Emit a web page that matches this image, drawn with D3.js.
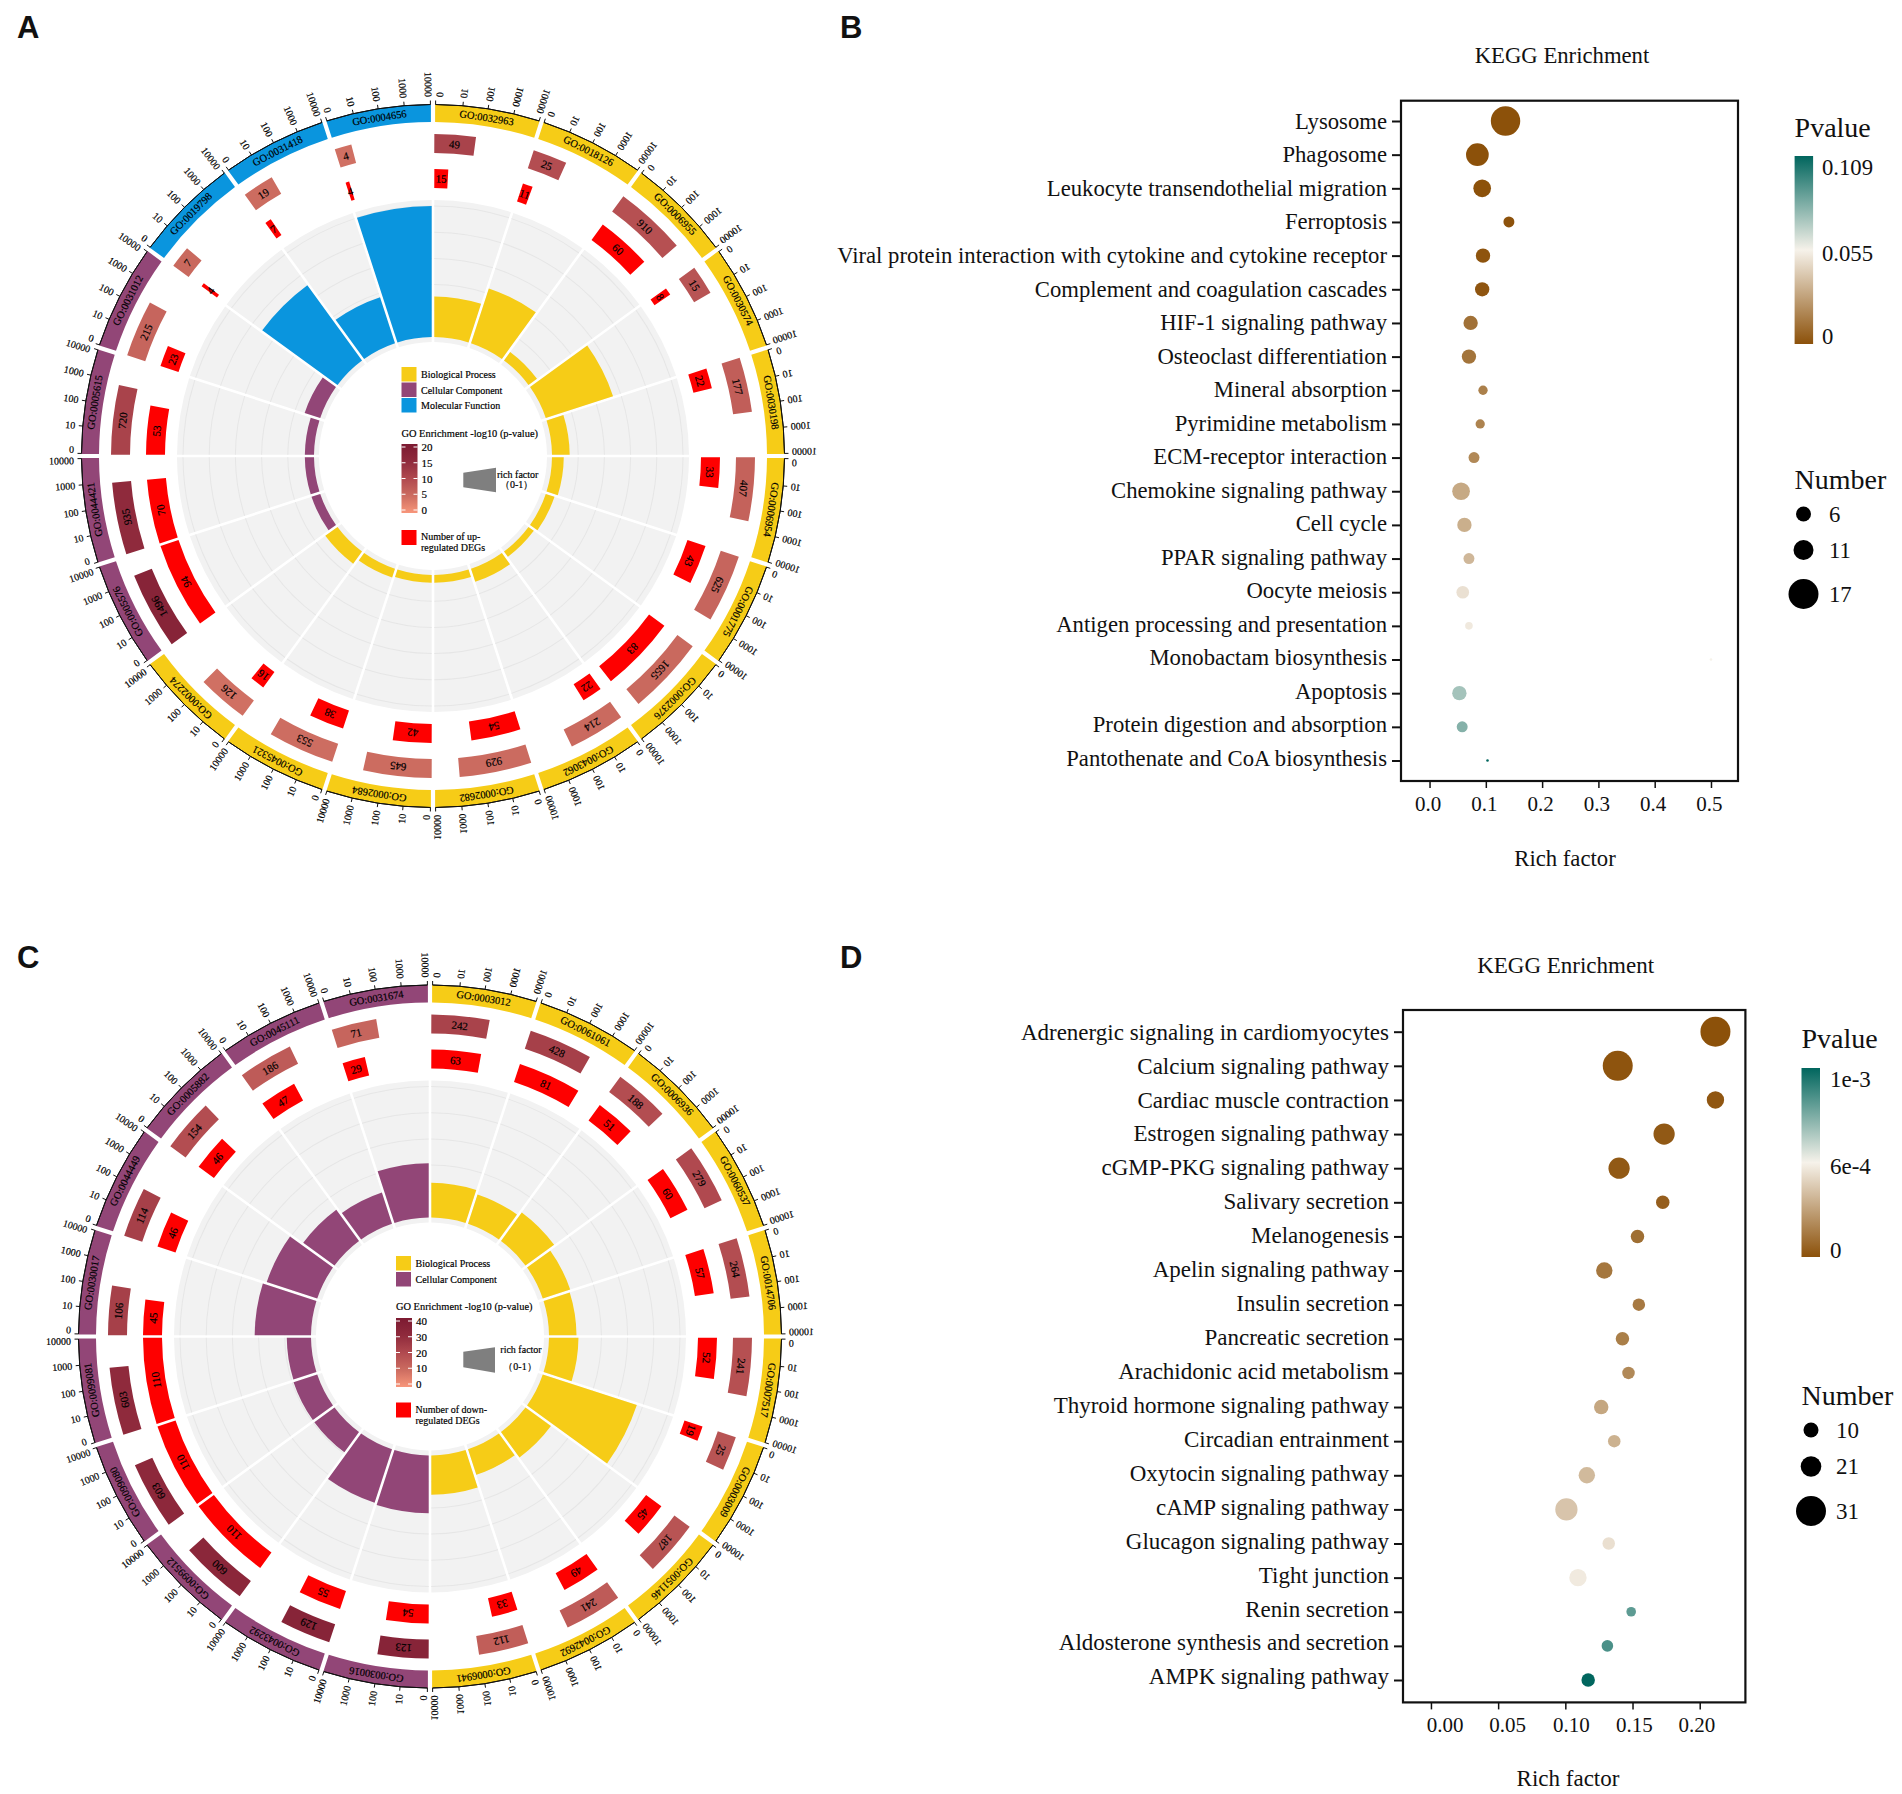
<!DOCTYPE html>
<html>
<head>
<meta charset="utf-8">
<script src="https://cdn.jsdelivr.net/npm/d3@7/dist/d3.min.js"></script>
<style>
html,body{margin:0;padding:0;background:#fff}
svg{display:block}
text{font-family:"Liberation Serif","Times New Roman",serif;fill:#111}
.ct{fill:#000;stroke:#000;stroke-width:0.18px}
</style>
</head>
<body>
<svg id="chart" width="1902" height="1794" viewBox="0 0 1902 1794"></svg>
<script>
// ---------- Panel A ----------
const aTerms = ["GO:0032963","GO:0018126","GO:0006955","GO:0030574","GO:0030198","GO:0006954","GO:0001775","GO:0002376","GO:0043062","GO:0002682","GO:0002684","GO:0045321","GO:0002274","GO:0005576","GO:0044421","GO:0005615","GO:0031012","GO:0019798","GO:0031418","GO:0004656"];
const aGroups = ["BP","BP","BP","BP","BP","BP","BP","BP","BP","BP","BP","BP","BP","CC","CC","CC","CC","MF","MF","MF"];
const aCounts = [49,25,910,15,177,407,625,1655,214,929,645,553,126,1496,935,720,215,7,19,4];
const aUp = [15,11,60,8,22,33,43,83,22,54,42,38,16,94,70,53,23,4,7,4];
const aLogP = [11,9.5,9,8.5,7,6.5,6,5.5,5.3,5.1,5,4.9,4.5,17,15,11,6,5.5,5,4.5];
const aRich = [0.31,0.44,0.08,0.54,0.135,0.09,0.07,0.05,0.105,0.06,0.06,0.07,0.115,0.07,0.07,0.07,0.125,0.71,0.37,1.0];
// ---------- Panel C ----------
const cTerms = ["GO:0003012","GO:0061061","GO:0006936","GO:0060537","GO:0014706","GO:0007517","GO:0003009","GO:0051146","GO:0042692","GO:0006941","GO:0030016","GO:0043292","GO:0099512","GO:0099080","GO:0099081","GO:0030017","GO:0044449","GO:0005882","GO:0045111","GO:0031674"];
const cGroups = ["BP","BP","BP","BP","BP","BP","BP","BP","BP","BP","CC","CC","CC","CC","CC","CC","CC","CC","CC","CC"];
const cCounts = [242,428,188,279,264,241,25,187,241,112,123,129,600,603,603,106,114,154,186,71];
const cDown = [63,81,51,60,57,52,19,45,49,33,54,55,110,110,110,45,46,46,47,29];
const cLogP = [22,23,19,20,19,18,17,17,15,14,34,34,32,31,30,23,23,19,15,12];
const cRich = [0.265,0.235,0.27,0.22,0.21,0.225,0.755,0.24,0.205,0.30,0.44,0.43,0.19,0.19,0.185,0.43,0.405,0.295,0.25,0.415];
const axisTicks = [0,10,100,1000,10000];
const groupColors = {BP:"#f6cc17",CC:"#924677",MF:"#0a95de"};
const groupNames = {BP:"Biological Process",CC:"Cellular Component",MF:"Molecular Function"};
const enrichColors = ["#f8967a","#cc6c60","#b0494f","#8f2a3c","#7c1a31"];
// ---------- Panel B ----------
const bTerms = ["Lysosome","Phagosome","Leukocyte transendothelial migration","Ferroptosis","Viral protein interaction with cytokine and cytokine receptor","Complement and coagulation cascades","HIF-1 signaling pathway","Osteoclast differentiation","Mineral absorption","Pyrimidine metabolism","ECM-receptor interaction","Chemokine signaling pathway","Cell cycle","PPAR signaling pathway","Oocyte meiosis","Antigen processing and presentation","Monobactam biosynthesis","Apoptosis","Protein digestion and absorption","Pantothenate and CoA biosynthesis"];
const bRich = [0.135,0.085,0.0935,0.141,0.095,0.0935,0.073,0.07,0.095,0.09,0.079,0.056,0.062,0.07,0.059,0.07,0.5,0.053,0.058,0.103];
const bNumber = [17,13,10,6,8,8,8,8,5,5,6,10,8,6,7,4,1,8,6,1];
const bP = [0,0,0,0.0005,0.001,0.0015,0.011,0.012,0.016,0.017,0.019,0.03,0.032,0.035,0.049,0.052,0.055,0.073,0.08,0.109];
const bTicks = [0,0.1,0.2,0.3,0.4,0.5];
const bSizeLegend = [6,11,17];
const bSizeLegendR = [7.5,10,15];
// ---------- Panel D ----------
const dTerms = ["Adrenergic signaling in cardiomyocytes","Calcium signaling pathway","Cardiac muscle contraction","Estrogen signaling pathway","cGMP-PKG signaling pathway","Salivary secretion","Melanogenesis","Apelin signaling pathway","Insulin secretion","Pancreatic secretion","Arachidonic acid metabolism","Thyroid hormone signaling pathway","Circadian entrainment","Oxytocin signaling pathway","cAMP signaling pathway","Glucagon signaling pathway","Tight junction","Renin secretion","Aldosterone synthesis and secretion","AMPK signaling pathway"];
const dRich = [0.2117,0.139,0.2117,0.1735,0.14,0.1725,0.1537,0.129,0.1547,0.1425,0.147,0.1267,0.1364,0.116,0.1008,0.1323,0.1094,0.149,0.1313,0.117];
const dNumber = [31,31,18,22,22,14,14,17,13,14,13,15,13,17,23,13,18,10,12,14];
const dP = [0,0.00001,0.00002,0.00003,0.00003,0.00005,0.00011,0.00014,0.00015,0.00017,0.00021,0.00032,0.00036,0.00039,0.00043,0.00053,0.00057,0.00085,0.00088,0.001];
const dTicks = [0,0.05,0.1,0.15,0.2];
const dSizeLegend = [10,21,31];
const dSizeLegendR = [7.5,10.3,15];
const pColors = ["#8c510a","#f6f2ea","#01665e"];

const svg = d3.select("#chart");
const defs = svg.append("defs");

function gradient(id, colors){
  const g = defs.append("linearGradient").attr("id",id).attr("x1",0).attr("y1",1).attr("x2",0).attr("y2",0);
  colors.forEach((c,i)=>g.append("stop").attr("offset",i/(colors.length-1)).attr("stop-color",c));
}
gradient("gEnrich",enrichColors);
gradient("gP",pColors);

function circos(o){
  const g = svg.append("g").attr("transform",`translate(${o.cx},${o.cy})`);
  const n = o.terms.length, step = 2*Math.PI/n;
  const sec = d3.scaleLinear().domain([0,n]).range([0,2*Math.PI]);
  const logFrac = d3.scaleLog().domain([1,10001]).range([0,1]);
  const upFrac = d3.scaleLinear().domain([0,d3.max(o.up)]).range([0,1]);
  const richR = d3.scaleLinear().domain([0,1]).range([119,250]);
  const color = d3.scaleLinear().domain(o.enrichDomain).range(enrichColors);
  const arcP = (pad)=>d3.arc().padRadius(100).padAngle(pad/100);
  const data = o.terms.map((t,i)=>({t,i,group:o.groups[i],count:o.counts[i],up:o.up[i],logp:o.logp[i],rich:o.rich[i],a0:sec(i),a1:sec(i+1)}));

  // grey background sectors + grid lines
  const bg = arcP(2.6);
  g.selectAll("path.bg").data(data).join("path").attr("class","bg")
    .attr("fill","#f2f2f2")
    .attr("d",d=>bg({innerRadius:114,outerRadius:256,startAngle:d.a0,endAngle:d.a1}));
  [0.2,0.4,0.6,0.8,1].forEach(v=>{
    g.selectAll(null).data(data).join("path").attr("fill","#e6e6e6")
      .attr("d",d=>bg({innerRadius:richR(v)-0.5,outerRadius:richR(v)+0.5,startAngle:d.a0,endAngle:d.a1}));
  });
  // rich-factor bars
  g.selectAll("path.rich").data(data).join("path").attr("class","rich")
    .attr("fill",d=>groupColors[d.group])
    .attr("d",d=>bg({innerRadius:richR(0),outerRadius:richR(d.rich),startAngle:d.a0,endAngle:d.a1}));
  // outer term ring
  const ring = arcP(4.2);
  g.selectAll("path.ring").data(data).join("path").attr("class","ring")
    .attr("fill",d=>groupColors[d.group])
    .attr("d",d=>ring({innerRadius:334,outerRadius:351.5,startAngle:d.a0,endAngle:d.a1}));
  // value bars
  const plain = d3.arc();
  const barArc = (d,f,r0,r1)=>{const gp=1.3/((r0+r1)/2); const s=d.a0+gp; const e=s+(step-2*gp)*f; return {innerRadius:r0,outerRadius:r1,startAngle:s,endAngle:e};};
  const lab = (sel,fn,rmid)=>sel.attr("transform",d=>{const a=fn(d);return `rotate(${a*180/Math.PI}) translate(0,${-rmid})`;});
  g.selectAll("path.cnt").data(data).join("path").attr("class","cnt")
    .attr("fill",d=>color(d.logp))
    .attr("d",d=>plain(barArc(d,logFrac(1+d.count),303,322)));
  g.selectAll("path.up").data(data).join("path").attr("class","up")
    .attr("fill","#fe0000")
    .attr("d",d=>plain(barArc(d,upFrac(d.up),268,287)));
  lab(g.selectAll("text.cnt").data(data).join("text").attr("class","cnt ct").text(d=>d.count),
    d=>{const b=barArc(d,logFrac(1+d.count),303,322);return (b.startAngle+b.endAngle)/2;},312.5)
    .attr("text-anchor","middle").attr("dominant-baseline","central").attr("font-size",11);
  lab(g.selectAll("text.up").data(data).join("text").attr("class","up ct").text(d=>d.up),
    d=>{const b=barArc(d,upFrac(d.up),268,287);return (b.startAngle+b.endAngle)/2;},277.5)
    .attr("text-anchor","middle").attr("dominant-baseline","central").attr("font-size",11);
  // term labels
  lab(g.selectAll("text.term").data(data).join("text").attr("class","term ct").text(d=>d.t),d=>(d.a0+d.a1)/2,342.5)
    .attr("text-anchor","middle").attr("dominant-baseline","central").attr("font-size",10.5);
  // axes
  const axPad = 2.6/351.5;
  data.forEach(d=>{
    const ang = d3.scaleLinear().domain([0,1]).range([d.a0+axPad,d.a1-axPad]);
    g.append("path").attr("fill","none").attr("stroke","#111").attr("stroke-width",1)
      .attr("d",d3.arc()({innerRadius:351.5,outerRadius:351.5,startAngle:ang(0),endAngle:ang(1)}));
    axisTicks.forEach((v,ti)=>{
      const a = ang(logFrac(1+v));
      const sa=Math.sin(a), ca=Math.cos(a);
      g.append("line").attr("x1",351.5*sa).attr("y1",-351.5*ca).attr("x2",355.5*sa).attr("y2",-355.5*ca)
        .attr("stroke","#111").attr("stroke-width",1);
      const shift = ti===0 ? 4/359 : (ti===axisTicks.length-1 ? -2/359 : 0);
      const la = a+shift;
      const right = la<Math.PI;
      const aa = right ? 2*Math.PI-la : la;
      const deg = aa*180/Math.PI-270;
      const x = 359*Math.sin(aa), y=-359*Math.cos(aa);
      g.append("g").attr("transform",right?"scale(-1,1)":null)
       .append("text").attr("class","ct").attr("transform",`translate(${x},${y}) rotate(${deg})`)
        .attr("text-anchor","end").attr("dominant-baseline","central").attr("font-size",10).text(v);
    });
  });
  // centre legend
  const L = svg.append("g");
  o.legendGroups.forEach((k,i)=>{
    L.append("rect").attr("x",o.lx).attr("y",o.swY[i]).attr("width",15).attr("height",14.5).attr("fill",groupColors[k]);
    L.append("text").attr("class","ct").attr("x",o.lx+19.5).attr("y",o.swY[i]+11).attr("font-size",10).text(groupNames[k]);
  });
  L.append("text").attr("class","ct").attr("x",o.lx).attr("y",o.enY).attr("font-size",10.4).text("GO Enrichment -log10 (p-value)");
  L.append("rect").attr("x",o.lx).attr("y",o.barY0).attr("width",16).attr("height",o.barY1-o.barY0).attr("fill","url(#gEnrich)");
  const cb = d3.scaleLinear().domain(d3.extent(o.enrichDomain)).range([o.barY1-3,o.barY0+3]);
  o.enrichDomain.forEach(v=>{
    [[o.lx,o.lx+4],[o.lx+12,o.lx+16]].forEach(p=>L.append("line").attr("x1",p[0]).attr("x2",p[1]).attr("y1",cb(v)).attr("y2",cb(v)).attr("stroke","#fff").attr("stroke-width",1));
    L.append("text").attr("class","ct").attr("x",o.lx+20).attr("y",cb(v)).attr("dominant-baseline","central").attr("font-size",11).text(v);
  });
  L.append("rect").attr("x",o.lx).attr("y",o.redY).attr("width",15).attr("height",15).attr("fill","#fe0000");
  o.redText.forEach((t,i)=>L.append("text").attr("class","ct").attr("x",o.lx+19.5).attr("y",o.redY+10+i*11).attr("font-size",10).text(t));
  L.append("path").attr("d",d3.line()(o.trap)).attr("fill","#7f7f7f");
  L.append("text").attr("class","ct").attr("x",o.rfX).attr("y",o.rfY).attr("text-anchor","middle").attr("font-size",10).text("rich factor");
  L.append("text").attr("class","ct").attr("x",o.rfX-1).attr("y",o.rfY2).attr("text-anchor","middle").attr("font-size",10).text("（0-1）");
}

circos({cx:433,cy:456,terms:aTerms,groups:aGroups,counts:aCounts,up:aUp,logp:aLogP,rich:aRich,
  enrichDomain:[0,5,10,15,20],legendGroups:["BP","CC","MF"],lx:401.5,swY:[367,382.5,398],
  enY:437,barY0:444,barY1:513,redY:530,redText:["Number of up-","regulated DEGs"],
  trap:[[463.3,472.7],[496,467.7],[496,492.3],[463.3,487.3],[463.3,472.7]],rfX:517.7,rfY:478,rfY2:488});
circos({cx:430,cy:1336.5,terms:cTerms,groups:cGroups,counts:cCounts,up:cDown,logp:cLogP,rich:cRich,
  enrichDomain:[0,10,20,30,40],legendGroups:["BP","CC"],lx:396,swY:[1256,1272],
  enY:1310,barY0:1318,barY1:1387,redY:1402.5,redText:["Number of down-","regulated DEGs"],
  trap:[[463.3,1351.7],[495,1347.3],[495,1372.7],[463.3,1367.3],[463.3,1351.7]],rfX:521,rfY:1353,rfY2:1369.5});

function dotplot(o){
  const g = svg.append("g");
  const x = d3.scaleLinear().domain(o.xDomain).range([o.left,o.right]);
  const y = d3.scalePoint().domain(o.terms).range([o.rowFirst,o.rowLast]);
  const color = d3.scaleLinear().domain(o.pDomain).range(pColors);
  const r = d3.scaleLinear().domain(d3.extent(o.number)).range([o.minR,o.maxR]);
  g.selectAll("circle.d").data(o.terms).join("circle").attr("class","d")
    .attr("cx",(d,i)=>x(o.rich[i])).attr("cy",d=>y(d)).attr("r",(d,i)=>r(o.number[i]))
    .attr("fill",(d,i)=>color(o.p[i]));
  g.append("rect").attr("x",o.left).attr("y",o.top).attr("width",o.right-o.left).attr("height",o.bottom-o.top)
    .attr("fill","none").attr("stroke","#111").attr("stroke-width",2.2);
  const ya = g.append("g").attr("transform",`translate(${o.left},0)`)
    .call(d3.axisLeft(y).tickSize(9).tickPadding(5));
  ya.select(".domain").remove();
  ya.selectAll("line").attr("stroke","#111").attr("stroke-width",2);
  const labelShift = d3.scaleLinear().domain([0,o.terms.length-1]).range(o.labelShift);
  ya.selectAll("text").attr("font-size",o.font).attr("font-family","Liberation Serif").attr("fill","#111")
    .attr("dy","0.22em").attr("y",(d,i)=>labelShift(i));
  const xa = g.append("g").attr("transform",`translate(0,${o.bottom})`)
    .call(d3.axisBottom(x).tickValues(o.ticks).tickFormat(d3.format(o.fmt)).tickSize(7).tickPadding(8));
  xa.select(".domain").remove();
  xa.selectAll("line").attr("stroke","#111").attr("stroke-width",1.5);
  xa.selectAll("text").attr("font-size",21).attr("font-family","Liberation Serif").attr("fill","#111")
    .attr("dx",(d,i)=>o.tickShift[i]);
  g.append("text").attr("x",o.titleX).attr("y",o.titleY).attr("text-anchor","middle").attr("dominant-baseline","central").attr("font-size",o.font).text("KEGG Enrichment");
  g.append("text").attr("x",o.xLabX).attr("y",o.xLabY).attr("text-anchor","middle").attr("dominant-baseline","central").attr("font-size",o.font).text("Rich factor");
  g.append("text").attr("x",o.cbX).attr("y",o.pTitleY).attr("dominant-baseline","central").attr("font-size",o.titleFont).text("Pvalue");
  g.append("rect").attr("x",o.cbX).attr("y",o.cbY0).attr("width",18.5).attr("height",o.cbY1-o.cbY0).attr("fill","url(#gP)");
  o.cbLabels.forEach((t,i)=>g.append("text").attr("x",o.cbLabX).attr("y",o.cbLabY[i]).attr("dominant-baseline","central").attr("font-size",o.font).text(t));
  g.append("text").attr("x",o.cbX).attr("y",o.nTitleY).attr("dominant-baseline","central").attr("font-size",o.titleFont).text("Number");
  o.sizeLegend.forEach((v,i)=>{
    g.append("circle").attr("cx",o.sizeX).attr("cy",o.sizeY[i]).attr("r",o.sizeR[i]).attr("fill","#000");
    g.append("text").attr("x",o.sizeLabX).attr("y",o.sizeY[i]).attr("dominant-baseline","central").attr("font-size",o.font).text(v);
  });
}

dotplot({terms:bTerms,rich:bRich,number:bNumber,p:bP,ticks:bTicks,fmt:".1f",left:1401,right:1738,top:100.7,bottom:781,
  xDomain:[-0.0507,0.548],rowFirst:121,rowLast:760.5,pDomain:[0,0.055,0.109],minR:1.3,maxR:14.7,font:22.7,titleFont:28,labelShift:[2.4,0],
  tickShift:[-2,-2,-2,-2,-2,-2],titleX:1562,titleY:55.7,xLabX:1565,xLabY:858,cbX:1794.6,cbY0:156,cbY1:344,pTitleY:127.5,
  cbLabels:["0.109","0.055","0"],cbLabX:1822,cbLabY:[167,253,336],nTitleY:479,sizeLegend:bSizeLegend,sizeR:bSizeLegendR,
  sizeX:1803.5,sizeY:[514,550,594],sizeLabX:1829});
dotplot({terms:dTerms,rich:dRich,number:dNumber,p:dP,ticks:dTicks,fmt:".2f",left:1403,right:1745.4,top:1010,bottom:1702.4,
  xDomain:[-0.0208,0.234],rowFirst:1031.7,rowLast:1680,pDomain:[0,0.0006,0.001],minR:4.8,maxR:15,font:23,titleFont:28,labelShift:[2.4,-1.2],
  tickShift:[13.7,8.9,5.5,1.4,-3.4],titleX:1565.6,titleY:965,xLabX:1568,xLabY:1778,cbX:1801.5,cbY0:1068,cbY1:1257,pTitleY:1038,
  cbLabels:["1e-3","6e-4","0"],cbLabX:1830,cbLabY:[1079,1166,1250.5],nTitleY:1395,sizeLegend:dSizeLegend,sizeR:dSizeLegendR,
  sizeX:1811,sizeY:[1430,1466.5,1511],sizeLabX:1836});

// panel letters
[["A",17,38],["B",840,38],["C",17,968],["D",840,968]].forEach(p=>{
  svg.append("text").attr("x",p[1]).attr("y",p[2]).attr("font-size",31).attr("font-weight","bold")
    .style("font-family","'Liberation Sans',Arial,sans-serif").text(p[0]);
});
</script>
</body>
</html>
